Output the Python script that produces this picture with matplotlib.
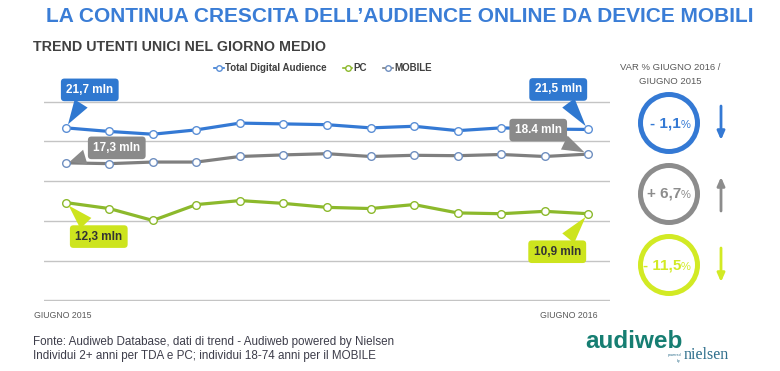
import matplotlib
matplotlib.use("Agg")
import matplotlib.pyplot as plt
import matplotlib.transforms as mtransforms
import numpy as np
from matplotlib.patches import Circle

NARROW = ["Liberation Sans Narrow", "Liberation Sans", "DejaVu Sans"]
SANS = ["Liberation Sans", "DejaVu Sans"]

# monthly values, June 2015 -> June 2016 (millions)
months = ["GIUGNO 2015", "", "", "", "", "", "", "", "", "", "", "", "GIUGNO 2016"]
tda = [21.7, 21.25, 20.9, 21.45, 22.3, 22.2, 22.1, 21.7, 21.9, 21.35, 21.7, 21.55, 21.5]
mobile = [17.3, 17.2, 17.4, 17.4, 18.1, 18.3, 18.45, 18.1, 18.25, 18.2, 18.35, 18.1, 18.4]
pc = [12.3, 11.55, 10.05, 12.05, 12.55, 12.2, 11.7, 11.55, 12.05, 11.0, 10.9, 11.2, 10.9]

series_names = ["Total Digital Audience", "PC", "MOBILE"]
first_labels = ["21,7 mln", "12,3 mln", "17,3 mln"]
last_labels = ["21,5 mln", "10,9 mln", "18.4 mln"]

var_labels = ["- 1,1", "+ 6,7", "- 11,5"]
var_dirs = [-1, 1, -1]

BLUE = "#3479d4"
GREEN = "#8cb92c"
GRAY = "#7f7f7f"
LBL_BLUE = "#2f78d0"
LBL_GRAY = "#8a8a8a"
LIME = "#cde41e"

fig = plt.figure(figsize=(7.8, 3.71), dpi=100)

ax = fig.add_axes([44 / 780, 70 / 371, 566 / 780, 200 / 371])
ax.patch.set_visible(False)
x = np.arange(len(months))

line_tda, = ax.plot(x, tda, color=BLUE, lw=2.3, marker="o", ms=5.5, mfc="white", mec="#5b8fd6", mew=1.0, zorder=4)
line_pc, = ax.plot(x, pc, color=GREEN, lw=2.3, marker="o", ms=5.5, mfc="white", mec=GREEN, mew=1.0, zorder=4)
line_mob, = ax.plot(x, mobile, color=GRAY, lw=2.3, marker="o", ms=5.5, mfc="white", mec="#6f8fc0", mew=1.0, zorder=4)

ax.set_xlim(-0.5, 12.5)
ax.set_ylim(-0.08, 25.08)
ax.set_yticks(np.arange(0, 26, 5))
ax.yaxis.grid(True, color="#c4c4c4", lw=1.0)
ax.set_axisbelow(True)
for s in ax.spines.values():
    s.set_visible(False)
ax.tick_params(left=False, bottom=False, labelleft=False)
ends = [0, len(months) - 1]
ax.set_xticks(ends)
ax.set_xticklabels([months[i] for i in ends], fontsize=6.3, color="#595959", family=NARROW)
ax.tick_params(axis="x", pad=4)
lab0, lab1 = ax.get_xticklabels()
lab0.set_ha("left")
lab0.set_transform(lab0.get_transform() + mtransforms.ScaledTranslation(-32 / 100, 0, fig.dpi_scale_trans))
lab1.set_ha("right")
lab1.set_transform(lab1.get_transform() + mtransforms.ScaledTranslation(9 / 100, 0, fig.dpi_scale_trans))


def callout(xi, yi, text, fc, tc, dx, dy):
    ax.annotate(text, xy=(xi, yi), xytext=(dx, dy), textcoords="offset pixels",
                ha="center", va="center", fontsize=8.5, fontweight="bold", color=tc,
                family=NARROW, zorder=6, annotation_clip=False,
                bbox=dict(boxstyle="round,pad=0.45,rounding_size=0.3", fc=fc, ec="none"),
                arrowprops=dict(arrowstyle="wedge,tail_width=1.3,shrink_factor=0.5",
                                fc=fc, ec="none", shrinkB=3))


callout(0, tda[0], first_labels[0], LBL_BLUE, "white", 24, 38)
callout(0, mobile[0], first_labels[2], LBL_GRAY, "white", 51, 15)
callout(0, pc[0], first_labels[1], LIME, "#333333", 33, -34)
callout(12, tda[-1], last_labels[0], LBL_BLUE, "white", -30, 40)
callout(12, mobile[-1], last_labels[2], LBL_GRAY, "white", -50, 24)
callout(12, pc[-1], last_labels[1], LIME, "#333333", -31, -38)

leg = fig.legend([line_tda, line_pc, line_mob], series_names, loc="center",
                 bbox_to_anchor=(323 / 780, 1 - 68 / 371), ncol=3, frameon=False,
                 handlelength=1.0, handletextpad=0.15, columnspacing=1.6,
                 prop=dict(family=SANS, weight="bold", size=7))
for t in leg.get_texts():
    t.set_color("#404040")
for h in leg.legend_handles:
    h.set_linewidth(1.2)
    h.set_markersize(4)

# overlay in pixel coordinates for titles, side panel and footer
ov = fig.add_axes([0, 0, 1, 1], zorder=-1)
ov.set_xlim(0, 780)
ov.set_ylim(371, 0)
ov.axis("off")

ov.text(400, 17, "LA CONTINUA CRESCITA DELL\u2019AUDIENCE ONLINE DA DEVICE MOBILI",
        ha="center", va="center", fontsize=15, fontweight="bold", color="#3a7dd6", family=NARROW)
ov.text(33, 47, "TREND UTENTI UNICI NEL GIORNO MEDIO", ha="left", va="center",
        fontsize=10.3, fontweight="bold", color="#404040", family=NARROW)

ov.text(670, 67, "VAR % GIUGNO 2016 /", ha="center", va="center", fontsize=6.8, color="#595959", family=NARROW)
ov.text(670, 81, "GIUGNO 2015", ha="center", va="center", fontsize=6.8, color="#595959", family=NARROW)

panel_colors = [BLUE, "#8c8c8c", "#d2ea24"]
for i, (lab, d, c) in enumerate(zip(var_labels, var_dirs, panel_colors)):
    cy = 123 + i * 71
    ov.add_patch(Circle((669, cy), 28.5, fill=False, lw=3.6, ec=c))
    ov.text(681, cy, lab, ha="right", va="center", fontsize=11, fontweight="bold", color=c, family=SANS)
    ov.text(681, cy + 1.5, "%", ha="left", va="center", fontsize=8, color=c, family=SANS)
    ov.annotate("", xy=(721, cy - d * 17), xytext=(721, cy + d * 17),
                arrowprops=dict(arrowstyle="-|>,head_length=0.5,head_width=0.22", lw=2, color=c, shrinkA=0, shrinkB=0))

ov.text(33, 342, "Fonte: Audiweb Database, dati di trend - Audiweb powered by Nielsen",
        ha="left", va="center", fontsize=8.4, color="#3d3d4a", family=NARROW)
ov.text(33, 356, "Individui 2+ anni per TDA e PC; individui 18-74 anni per il MOBILE",
        ha="left", va="center", fontsize=8.4, color="#3d3d4a", family=NARROW)

ov.text(585, 341, "audiweb", ha="left", va="center", fontsize=17.5, fontweight="bold", color="#167e72", family=SANS)
ov.text(684, 355, "nielsen", ha="left", va="center", fontsize=11.5, color="#2f6f8c", family=["Liberation Serif", "DejaVu Serif"])
ov.text(681, 358, "powered\nby", ha="right", va="center", fontsize=2.5, color="#2f6f8c", family=SANS, linespacing=1.5)

fig.savefig("out.png", dpi=100)
